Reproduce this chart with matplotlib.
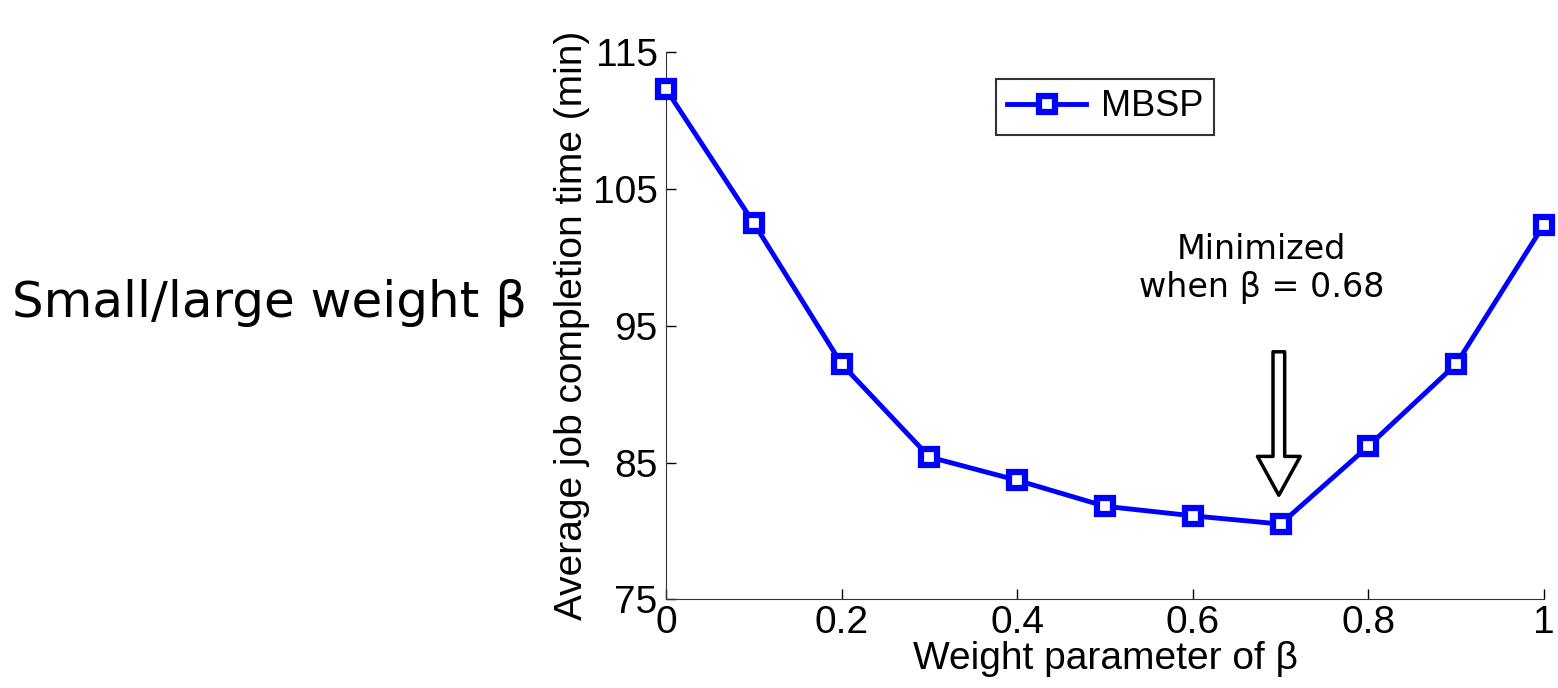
import matplotlib.pyplot as plt
import numpy as np

# data
beta = [0.0, 0.1, 0.2, 0.3, 0.4, 0.5, 0.6, 0.7, 0.8, 0.9, 1.0]
jct = [112.3, 102.5, 92.2, 85.4, 83.7, 81.8, 81.1, 80.5, 86.2, 92.2, 102.4]
xticks = [0, 0.2, 0.4, 0.6, 0.8, 1]
xtick_labels = ['0', '0.2', '0.4', '0.6', '0.8', '1']
yticks = [75, 85, 95, 105, 115]

plt.rc('font', family='Liberation Sans', size=28)

fig = plt.figure(figsize=(15.58, 6.88), dpi=100)
ax = fig.add_axes([0.4275, 0.129, 0.5635, 0.795])

ax.plot(beta, jct, color='blue', linewidth=3.5, marker='s', markersize=11,
        markerfacecolor='white', markeredgecolor='blue', markeredgewidth=4.5,
        label='MBSP', clip_on=False, zorder=3)

ax.set_xlim(0, 1)
ax.set_ylim(75, 115)
ax.set_xticks(xticks)
ax.set_xticklabels(xtick_labels)
ax.set_yticks(yticks)
ax.tick_params(direction='in', length=7, width=1, labelsize=28)
ax.tick_params(axis='x', pad=4)
ax.tick_params(axis='y', pad=6)
ax.spines['top'].set_visible(False)
ax.spines['right'].set_visible(False)
for s in ['left', 'bottom']:
    ax.spines[s].set_color('#333333')

ax.set_xlabel('Weight parameter of β', fontsize=28, labelpad=0)
ax.set_ylabel('Average job completion time (min)', fontsize=28, labelpad=2)

leg = ax.legend(loc='upper center', bbox_to_anchor=(0.5, 0.985), fontsize=26,
                fancybox=False, edgecolor='black', handlelength=2.2,
                borderpad=0.3, handletextpad=0.4)
leg.get_frame().set_linewidth(1.5)

# hollow arrow + note
ax.annotate('', xy=(0.698, 82.4), xytext=(0.698, 93.3),
            arrowprops=dict(arrowstyle='simple,head_length=1.0,head_width=1.1,tail_width=0.3',
                            facecolor='white', edgecolor='black', linewidth=2.5))
ax.text(0.678, 96.6, 'Minimized\nwhen β = 0.68', ha='center', va='bottom',
        fontsize=24, family='DejaVu Sans', linespacing=1.2)

fig.text(0.008, 0.56, 'Small/large weight β', fontsize=36, family='DejaVu Sans',
         ha='left', va='center')

fig.savefig('out.png', dpi=100)
